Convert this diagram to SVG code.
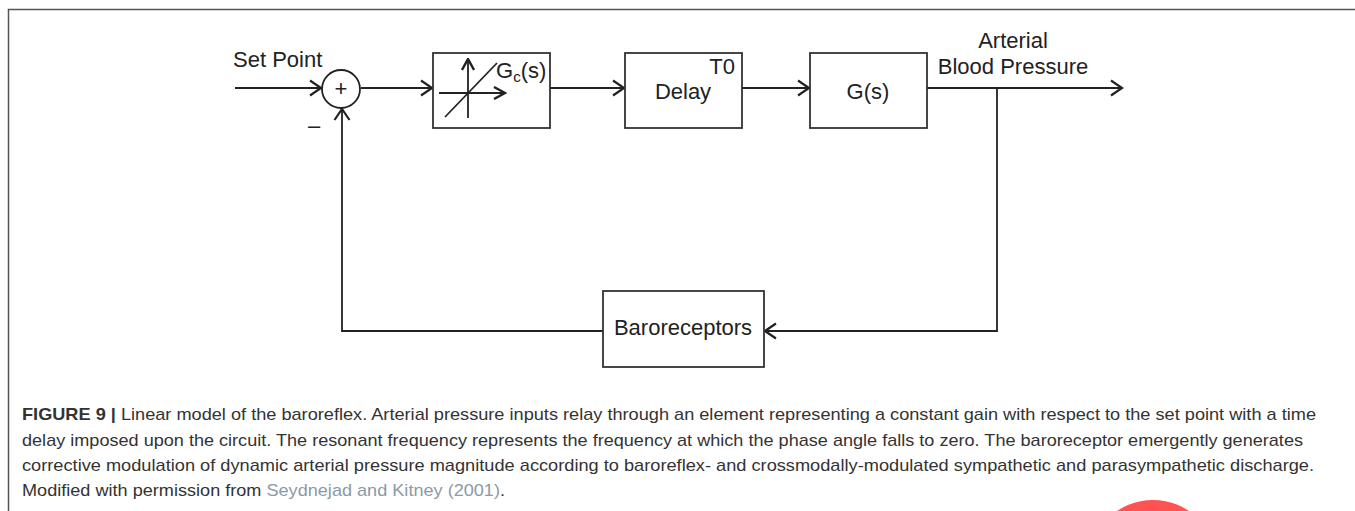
<svg xmlns="http://www.w3.org/2000/svg" width="1355" height="511" viewBox="0 0 1355 511">
<defs>
<marker id="arr" viewBox="0 0 14 18" refX="12.5" refY="9" markerWidth="14" markerHeight="18" markerUnits="userSpaceOnUse" orient="auto">
<path d="M1.5,1.5 L12.5,9 L1.5,16.5" fill="none" stroke="#222" stroke-width="2.2"/>
</marker>
<marker id="arrs" viewBox="0 0 14 14" refX="12.5" refY="7" markerWidth="14" markerHeight="14" markerUnits="userSpaceOnUse" orient="auto">
<path d="M1.5,1 L12.5,7 L1.5,13" fill="none" stroke="#222" stroke-width="2.4"/>
</marker>
</defs>
<style>
.box{fill:#fff;stroke:#333;stroke-width:1.8}
.ln{fill:none;stroke:#222;stroke-width:1.8}
.lbl{font-family:"Liberation Sans",Arial,sans-serif;font-size:22px;fill:#222}
.cap{font-family:"Liberation Sans",Arial,sans-serif;font-size:17px;fill:#333}
.link{fill:#8c99a6}
</style>
<rect width="1355" height="511" fill="#fff"/>
<path d="M8.5,511 V9.5 H1355" fill="none" stroke="#555" stroke-width="1.5"/>

<g id="connectors">
<line class="ln" x1="235" y1="88" x2="321" y2="88" marker-end="url(#arr)"/>
<line class="ln" x1="361" y1="88" x2="432" y2="88" marker-end="url(#arr)"/>
<line class="ln" x1="550" y1="88" x2="624" y2="88" marker-end="url(#arr)"/>
<line class="ln" x1="742" y1="88" x2="809" y2="88" marker-end="url(#arr)"/>
<line class="ln" x1="927" y1="88" x2="1122" y2="88" marker-end="url(#arr)"/>
<polyline class="ln" points="997,88 997,331 765,331" marker-end="url(#arr)"/>
<polyline class="ln" points="603,331 342,331 342,109" marker-end="url(#arr)"/>
</g>

<g id="setpoint"><text class="lbl" x="233" y="67">Set Point</text></g>

<g id="sum">
<circle cx="341" cy="89" r="19" fill="#fff" stroke="#222" stroke-width="1.8"/>
<text class="lbl" x="341" y="96" text-anchor="middle" font-size="20">+</text>
<text class="lbl" x="314" y="133" text-anchor="middle" font-size="20">–</text>
</g>

<g id="gc">
<rect class="box" x="433" y="53" width="117" height="75"/>
<line class="ln" x1="468" y1="118" x2="468" y2="59" stroke-width="2.2" marker-end="url(#arrs)"/>
<line class="ln" x1="439" y1="93" x2="505" y2="93" stroke-width="2.2" marker-end="url(#arrs)"/>
<line class="ln" x1="445" y1="117" x2="497" y2="63" stroke-width="1.4"/>
<text class="lbl" x="496" y="78">G<tspan font-size="15" dy="4">c</tspan><tspan dy="-4">(s)</tspan></text>
</g>

<g id="delay">
<rect class="box" x="625" y="53" width="117" height="75"/>
<text class="lbl" x="735" y="74" text-anchor="end">T0</text>
<text class="lbl" x="683" y="99" text-anchor="middle">Delay</text>
</g>

<g id="gs">
<rect class="box" x="810" y="53" width="117" height="75"/>
<text class="lbl" x="868" y="99" text-anchor="middle">G(s)</text>
</g>

<g id="output">
<text class="lbl" x="1013" y="48" text-anchor="middle">Arterial</text>
<text class="lbl" x="1013" y="74" text-anchor="middle">Blood Pressure</text>
</g>

<g id="baroreceptors">
<rect class="box" x="603" y="291" width="161" height="76"/>
<text class="lbl" x="683" y="335" text-anchor="middle">Baroreceptors</text>
</g>

<g id="caption">
<text class="cap" x="22" y="420" textLength="1294" lengthAdjust="spacingAndGlyphs"><tspan font-weight="bold">FIGURE 9 |</tspan> Linear model of the baroreflex. Arterial pressure inputs relay through an element representing a constant gain with respect to the set point with a time</text>
<text class="cap" x="22" y="446" textLength="1281" lengthAdjust="spacingAndGlyphs">delay imposed upon the circuit. The resonant frequency represents the frequency at which the phase angle falls to zero. The baroreceptor emergently generates</text>
<text class="cap" x="22" y="471" textLength="1292" lengthAdjust="spacingAndGlyphs">corrective modulation of dynamic arterial pressure magnitude according to baroreflex- and crossmodally-modulated sympathetic and parasympathetic discharge.</text>
<text class="cap" x="22" y="496" textLength="483" lengthAdjust="spacingAndGlyphs">Modified with permission from <tspan class="link">Seydnejad and Kitney (2001)</tspan>.</text>
</g>

<circle cx="1153" cy="564" r="64" fill="#ff5252"/>
</svg>
